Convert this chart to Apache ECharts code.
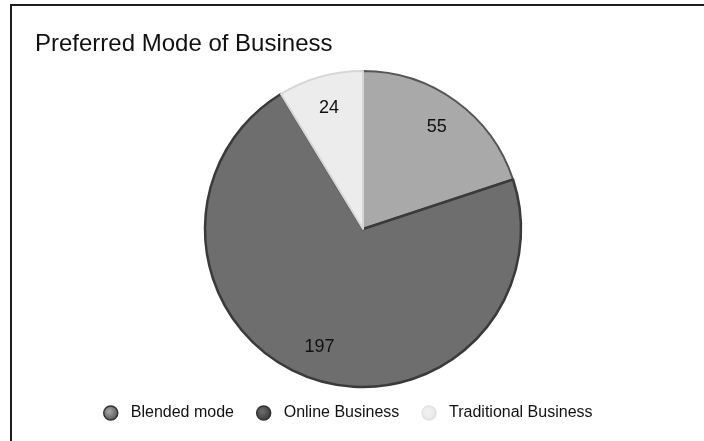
<!DOCTYPE html>
<html>
<head>
<meta charset="utf-8">
<script src="https://cdn.jsdelivr.net/npm/echarts@6/dist/echarts.min.js"></script>
<style>
  html, body { margin: 0; padding: 0; background: #fff; }
  #chart { width: 704px; height: 441px; }
</style>
</head>
<body>
<div id="chart"></div>
<script>
// Survey answers: preferred mode of business
const categories = ['Blended mode', 'Online Business', 'Traditional Business'];
const counts = [55, 197, 24];
const fills = ['#a9a9a9', '#6e6e6e', '#ececec'];
const edges = ['#555555', '#3a3a3a', '#d6d6d6'];

const chart = echarts.init(document.getElementById('chart'));

const slices = categories.map((name, i) => ({
  name,
  value: counts[i],
  itemStyle: { color: fills[i], borderColor: edges[i], borderWidth: i === 1 ? 2.5 : 2 }
}));

// Labels are carried by a transparent ring so they sit at ~78% of the radius
const labelRing = categories.map((name, i) => ({
  name,
  value: counts[i],
  itemStyle: { color: 'rgba(0,0,0,0)', borderWidth: 0 }
}));

chart.setOption({
  animation: false,
  backgroundColor: '#ffffff',
  title: {
    text: 'Preferred Mode of Business',
    left: 30,
    top: 27,
    textStyle: { fontFamily: 'Liberation Sans, Arial, sans-serif', fontSize: 24, fontWeight: 'normal', color: '#111' }
  },
  legend: {
    top: 400,
    left: 98,
    icon: 'circle',
    itemWidth: 14,
    itemHeight: 14,
    itemGap: 22,
    data: categories.map((name, i) => ({
      name,
      itemStyle: {
        color: {
          type: 'radial', x: 0.4, y: 0.4, r: 0.6,
          colorStops: [{ offset: 0, color: i === 2 ? '#f2f2f2' : fills[i] }, { offset: 1, color: i === 2 ? '#e6e6e6' : edges[i] }]
        },
        borderColor: i === 2 ? '#e2e2e2' : '#333',
        borderWidth: 1.5
      }
    })),
    textStyle: { fontFamily: 'Liberation Sans, Arial, sans-serif', fontSize: 16, color: '#111', padding: [0, 0, 0, 8] }
  },
  graphic: [{
    type: 'rect',
    shape: { x: 11, y: 5, width: 900, height: 900 },
    style: { fill: 'none', stroke: '#1e1e1e', lineWidth: 2 },
    silent: true
  }],
  series: [
    {
      type: 'pie',
      center: [363, 229],
      radius: 158,
      startAngle: 90,
      clockwise: true,
      silent: true,
      label: { show: false },
      labelLine: { show: false },
      data: slices
    },
    {
      type: 'pie',
      center: [363, 229],
      radius: [88, 158],
      startAngle: 90,
      clockwise: true,
      silent: true,
      legendHoverLink: false,
      label: {
        show: true,
        position: 'inside',
        formatter: '{c}',
        fontFamily: 'Liberation Sans, Arial, sans-serif',
        fontSize: 18,
        color: '#111'
      },
      labelLine: { show: false },
      data: labelRing
    }
  ]
});
</script>
</body>
</html>
